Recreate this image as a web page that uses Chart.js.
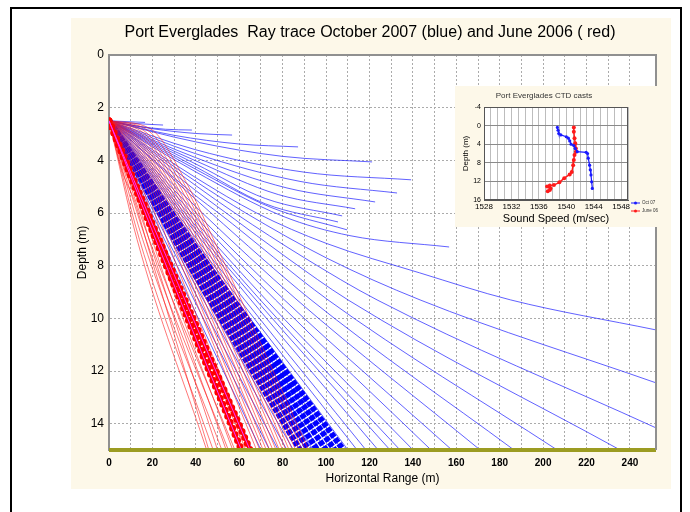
<!DOCTYPE html>
<html>
<head>
<meta charset="utf-8">
<script src="https://cdn.jsdelivr.net/npm/chart.js@4.4.1/dist/chart.umd.min.js"></script>
<style>
  html, body { margin: 0; padding: 0; background: #fff; }
  #wrap { position: relative; width: 690px; height: 512px; }
  #mainChart { position: absolute; left: 0; top: 0; }
  #insetChart { position: absolute; left: 455px; top: 86px; }
</style>
</head>
<body>
<div id="wrap">
  <canvas id="mainChart" width="690" height="512"></canvas>
  <canvas id="insetChart" width="203" height="141"></canvas>
</div>
<script>
// Ray paths: [horizontal range (m), depth (m)]
// October 2007 rays that turn back in the upper layer
const octTurningRays = [
  [[0, 2.5], [16.6, 2.56]],
  [[0, 2.5], [12, 2.6], [24.9, 2.66]],
  [[0, 2.5], [13, 2.7], [26, 2.82], [38.2, 2.85]],
  [[0, 2.5], [20, 2.8], [40, 2.98], [56.7, 3.04]],
  [[0, 2.5], [30, 3.05], [60, 3.38], [87.1, 3.49]],
  [[0, 2.5], [40, 3.3], [80, 3.85], [121.2, 4.06]],
  [[0, 2.5], [40, 3.6], [90, 4.45], [139.2, 4.74]],
  [[0, 2.5], [40, 3.75], [88, 4.8], [132.7, 5.24]],
  [[0, 2.5], [40, 3.9], [82, 5.05], [122.6, 5.58]],
  [[0, 2.5], [40, 4.02], [78, 5.3], [113.4, 5.84]],
  [[0, 2.5], [40, 4.14], [72, 5.45], [107.4, 6.11]],
  [[0, 2.5], [40, 4.25], [72, 5.65], [105.5, 6.34]],
  [[0, 2.5], [40, 4.34], [75, 5.8], [109.7, 6.64]],
  [[0, 2.5], [40, 4.44], [80, 6.12], [111, 6.86], [156.7, 7.29]]
];

// October 2007 rays that carry on to the edge or the bottom
const octLongRays = [
  [[0, 2.5], [40, 4.66], [68, 6.0], [100, 7.15], [143, 8.27], [185, 9.3], [252, 10.44]],
  [[0, 2.5], [40, 4.8], [63, 6.0], [100, 7.7], [143.3, 9.3], [252, 12.45]],
  [[0, 2.5], [40, 4.96], [58, 6.0], [90, 7.7], [123.5, 9.3], [252, 14.16]],
  [[0, 2.5], [40, 5.15], [54, 6.0], [82, 7.7], [110.1, 9.3], [235.5, 15]],
  [[0, 2.5], [40, 5.35], [50.5, 6.0], [100.9, 9.3], [206.5, 15]],
  [[0, 2.5], [47, 6.0], [93.1, 9.3], [186.6, 15]],
  [[0, 2.5], [43, 6.0], [86.6, 9.3], [171, 15]],
  [[0, 2.5], [40.2, 6.0], [80.8, 9.3], [158, 15]],
  [[0, 2.5], [38.2, 6.0], [76.7, 9.3], [148.4, 15]],
  [[0, 2.5], [36.4, 6.0], [72.4, 9.3], [140.1, 15]],
  [[0, 2.5], [34.9, 6.0], [69.7, 9.3], [134.1, 15]],
  [[0, 2.5], [33.7, 6.0], [67.7, 9.3], [129.5, 15]],
  [[0, 2.5], [32.6, 6.0], [65.4, 9.3], [124, 15]],
  [[0, 2.5], [31.2, 6.0], [62.5, 9.3], [118.4, 15]],
  [[0, 2.5], [30.3, 6.0], [60.3, 9.3], [114.3, 15]],
  [[0, 2.5], [29.3, 6.0], [58.7, 9.3], [110.1, 15]]
];

// October 2007 steep rays inside the dense band
const octSteepRays = [
  [[0, 2.5], [22.8, 7], [66, 15]],
  [[0, 2.5], [24.2, 7], [70, 15]],
  [[0, 2.5], [25.5, 7], [74, 15]],
  [[0, 2.5], [26.9, 7], [78, 15]],
  [[0, 2.5], [28.3, 7], [82, 15]],
  [[0, 2.5], [29.3, 7], [85, 15]],
  [[0, 2.5], [30.4, 7], [88, 15]],
  [[0, 2.5], [31.4, 7], [91, 15]],
  [[0, 2.5], [32.4, 7], [94, 15]],
  [[0, 2.5], [33.5, 7], [97, 15]],
  [[0, 2.5], [34.6, 7], [100, 15]],
  [[0, 2.5], [35.9, 7], [104, 15]],
  [[0, 2.5], [37.2, 7], [107.5, 15]]
];

// October 2007 rays drawn with markers
const octMarkedRays = [
  [[0, 2.5], [30.2, 7], [88, 15]],
  [[0, 2.5], [31.6, 7], [92, 15]],
  [[0, 2.5], [33, 7], [96, 15]],
  [[0, 2.5], [34.4, 7], [100, 15]],
  [[0, 2.5], [35.8, 7], [104, 15]],
  [[0, 2.5], [37.2, 7], [108, 15]]
];

// June 2006 rays (thin)
const junRays = [
  [[0, 2.5], [19, 2.8], [36, 4.9], [49.8, 7.3], [92, 15]],
  [[0, 2.5], [18.5, 2.9], [35, 4.95], [48.6, 7.3], [90.5, 15]],
  [[0, 2.5], [18, 3.0], [34, 5.0], [47.5, 7.3], [89, 15]],
  [[0, 2.5], [17.5, 3.07], [33, 5.05], [46.2, 7.3], [87.5, 15]],
  [[0, 2.5], [17, 3.15], [32, 5.1], [45, 7.3], [86, 15]],
  [[0, 2.5], [16.5, 3.22], [31, 5.12], [43.7, 7.3], [84.5, 15]],
  [[0, 2.5], [16, 3.3], [30, 5.15], [42.5, 7.3], [83, 15]],
  [[0, 2.5], [15.5, 3.35], [29, 5.18], [41.2, 7.3], [81.5, 15]],
  [[0, 2.5], [15, 3.4], [28, 5.2], [40, 7.3], [80, 15]],
  [[0, 2.5], [14.5, 3.45], [27, 5.2], [38.7, 7.3], [78.5, 15]],
  [[0, 2.5], [14, 3.5], [26, 5.2], [37.5, 7.3], [77, 15]],
  [[0, 2.5], [13.5, 3.55], [25, 5.2], [36.2, 7.3], [75.5, 15]],
  [[0, 2.5], [13, 3.6], [24, 5.2], [35, 7.3], [74, 15]],
  [[0, 2.5], [12.5, 3.65], [23, 5.2], [33.7, 7.3], [72.5, 15]],
  [[0, 2.5], [12, 3.7], [22, 5.2], [32.5, 7.3], [71, 15]],
  [[0, 2.5], [11.5, 3.75], [21, 5.2], [31.2, 7.3], [69.5, 15]],
  [[0, 2.5], [11, 3.8], [20, 5.2], [30, 7.3], [68, 15]],
  [[0, 2.5], [10.5, 3.87], [19, 5.22], [28, 7.3], [65.5, 15]],
  [[0, 2.5], [10, 3.95], [18, 5.25], [26, 7.3], [63, 15]],
  [[0, 2.5], [9.5, 4.0], [16.5, 5.28], [24.2, 7.3], [60, 15]],
  [[0, 2.5], [9, 4.1], [15, 5.3], [22.5, 7.3], [57, 15]],
  [[0, 2.5], [8, 4.2], [14, 5.4], [21, 7.3], [54, 15]],
  [[0, 2.5], [7, 4.3], [13, 5.5], [19.5, 7.3], [50, 15]],
  [[0, 2.5], [6, 4.4], [12, 5.6], [18, 7.3], [46, 15]],
  [[0, 2.5], [18.5, 7], [58, 15]],
  [[0, 2.5], [17, 7], [55, 15]],
  [[0, 2.5], [15.5, 7], [52, 15]],
  [[0, 2.5], [14, 7], [48, 15]],
  [[0, 2.5], [12.9, 7], [45, 15]]
];

// June 2006 rays drawn with markers
const junMarkedRays = [
  [[0, 2.5], [21.5, 7], [61, 15]],
  [[0, 2.5], [23, 7], [65, 15]]
];

// Sea floor
const seafloor = [[0, 15], [252, 15]];

// Inset: CTD casts
const octSpeed = [1538.7, 1538.8, 1538.9, 1539.2, 1540.0, 1540.3, 1540.5, 1540.7, 1541.1, 1541.3, 1541.6, 1542.9, 1543.1, 1543.2, 1543.4, 1543.5, 1543.6, 1543.7, 1543.8];
const octDepth = [0.4, 1.0, 1.7, 2.0, 2.4, 2.7, 3.3, 4.0, 4.3, 4.9, 5.6, 5.75, 6.0, 7.0, 8.5, 9.5, 10.6, 12.1, 13.5];
const junSpeed = [1541.1, 1541.1, 1541.2, 1541.3, 1541.4, 1541.4, 1541.2, 1541.1, 1541.0, 1540.8, 1540.5, 1539.7, 1539.0, 1538.2, 1537.6, 1537.2, 1537.7, 1537.6, 1537.3];
const junDepth = [0.4, 1.3, 2.7, 3.8, 4.9, 5.6, 6.3, 7.4, 8.5, 10.0, 10.5, 11.3, 12.2, 12.8, 12.9, 13.1, 13.5, 13.85, 14.1];
const ctdLabels = ['Oct 07', 'June 06'];

const FONT = "Arial, 'Liberation Sans', sans-serif";
Chart.defaults.font.family = FONT;
Chart.defaults.color = '#000';

const CREAM = '#fdf8e9';
const BLUE = 'rgba(30, 30, 255, 0.7)';
const RED = 'rgba(255, 30, 30, 0.6)';

function toXY(ray) {
    return ray.map(p => ({ x: p[0], y: p[1] }));
}

function rayLine(ray, color, width) {
    return {
        data: toXY(ray),
        showLine: true,
        borderColor: color,
        borderWidth: width,
        pointRadius: 0,
        cubicInterpolationMode: 'monotone',
        fill: false
    };
}

// Build datasets, first one ends up on top
const mainSets = [];
mainSets.push(Object.assign(rayLine(seafloor, '#9c9c22', 4), { cubicInterpolationMode: 'default', clip: false }));
junMarkedRays.forEach(r => mainSets.push(rayLine(r, '#ff30ff', 1)));
junMarkedRays.forEach(r => mainSets.push(Object.assign(rayLine(r, '#ff0000', 7), {
    borderDash: [0, 6.5], borderCapStyle: 'round'
})));
junRays.forEach(r => mainSets.push(rayLine(r, RED, 1)));
octMarkedRays.forEach(r => mainSets.push(Object.assign(rayLine(r, '#0000ff', 6), {
    borderDash: [5, 1.5], borderCapStyle: 'butt'
})));
octSteepRays.forEach(r => mainSets.push(rayLine(r, BLUE, 1)));
octLongRays.forEach(r => mainSets.push(rayLine(r, BLUE, 1)));
octTurningRays.forEach(r => mainSets.push(rayLine(r, BLUE, 1)));

const mainFrame = {
    id: 'mainFrame',
    beforeDraw(chart) {
        const { ctx, chartArea: a } = chart;
        ctx.save();
        ctx.fillStyle = '#ffffff';
        ctx.fillRect(0, 0, chart.width, chart.height);
        ctx.fillStyle = CREAM;
        ctx.fillRect(71, 18, 600, 471);
        ctx.strokeStyle = '#000';
        ctx.lineWidth = 2;
        ctx.beginPath();
        ctx.moveTo(11, 520);
        ctx.lineTo(11, 8);
        ctx.lineTo(681, 8);
        ctx.lineTo(681, 520);
        ctx.stroke();
        ctx.fillStyle = '#ffffff';
        ctx.fillRect(a.left, a.top, a.right - a.left, a.bottom - a.top);
        ctx.restore();
    },
    afterDraw(chart) {
        const { ctx, chartArea: a } = chart;
        ctx.save();
        ctx.strokeStyle = '#909090';
        ctx.lineWidth = 2;
        ctx.beginPath();
        ctx.moveTo(a.left, a.top);
        ctx.lineTo(a.right, a.top);
        ctx.lineTo(a.right, a.bottom);
        ctx.stroke();
        ctx.fillStyle = '#000';
        ctx.font = '16px ' + FONT;
        ctx.textAlign = 'center';
        ctx.textBaseline = 'middle';
        ctx.fillText('Port Everglades  Ray trace October 2007 (blue) and June 2006 ( red)', 370, 33);
        ctx.restore();
    }
};

new Chart(document.getElementById('mainChart'), {
    type: 'scatter',
    data: { datasets: mainSets },
    options: {
        responsive: false,
        animation: false,
        events: [],
        layout: { padding: { left: 70, right: 34, top: 55, bottom: 22 } },
        plugins: { legend: { display: false }, tooltip: { enabled: false } },
        scales: {
            x: {
                type: 'linear',
                min: 0,
                max: 252,
                ticks: {
                    stepSize: 10,
                    autoSkip: false,
                    maxRotation: 0,
                    padding: 7,
                    font: { size: 10, weight: 'bold' },
                    callback: v => (v % 20 === 0 ? String(v) : '')
                },
                grid: { color: '#ababab', drawTicks: false },
                border: { display: false, dash: [2, 2] },
                title: { display: true, text: 'Horizontal Range (m)', font: { size: 12 }, padding: { top: 0, bottom: 4 } },
                afterFit: s => { s.height = 40; }
            },
            y: {
                type: 'linear',
                min: 0,
                max: 15,
                reverse: true,
                ticks: {
                    stepSize: 2,
                    padding: 5,
                    font: { size: 12 },
                    callback: v => (v % 2 === 0 ? String(v) : '')
                },
                grid: { color: '#ababab', drawTicks: false },
                border: { display: true, color: '#909090', width: 2, dash: [2, 2] },
                title: { display: true, text: 'Depth (m)', font: { size: 12 }, padding: { top: 5, bottom: 0 } },
                afterFit: s => { s.width = 39; }
            }
        }
    },
    plugins: [mainFrame]
});

// Inset chart
const insetFrame = {
    id: 'insetFrame',
    beforeDraw(chart) {
        const { ctx, chartArea: a } = chart;
        ctx.save();
        ctx.fillStyle = CREAM;
        ctx.fillRect(0, 0, chart.width, chart.height);
        ctx.fillStyle = '#ffffff';
        ctx.fillRect(a.left, a.top, a.right - a.left, a.bottom - a.top);
        ctx.restore();
    },
    afterDraw(chart) {
        const { ctx, chartArea: a } = chart;
        ctx.save();
        ctx.strokeStyle = '#555';
        ctx.lineWidth = 1;
        ctx.strokeRect(a.left + 0.5, a.top + 0.5, a.right - a.left - 1, a.bottom - a.top - 1);
        ctx.fillStyle = '#333';
        ctx.font = '8px ' + FONT;
        ctx.textAlign = 'center';
        ctx.textBaseline = 'middle';
        ctx.fillText('Port Everglades CTD casts', 89, 10);
        // small legend
        const colors = ['#1a1aff', '#ff1a1a'];
        ctx.font = '4.5px ' + FONT;
        ctx.textAlign = 'left';
        ctdLabels.forEach((label, i) => {
            const y = 117 + i * 8;
            ctx.strokeStyle = colors[i];
            ctx.lineWidth = 1;
            ctx.beginPath();
            ctx.moveTo(176, y);
            ctx.lineTo(185, y);
            ctx.stroke();
            ctx.fillStyle = colors[i];
            ctx.beginPath();
            ctx.arc(180.5, y, 1.5, 0, Math.PI * 2);
            ctx.fill();
            ctx.fillStyle = '#333';
            ctx.fillText(label, 187, y);
        });
        ctx.restore();
    }
};

new Chart(document.getElementById('insetChart'), {
    type: 'scatter',
    data: {
        datasets: [
            {
                label: ctdLabels[0],
                data: octSpeed.map((s, i) => ({ x: s, y: octDepth[i] })),
                showLine: true,
                borderColor: '#1a1aff',
                borderWidth: 1.2,
                pointRadius: 1.6,
                pointBorderWidth: 0,
                pointBackgroundColor: '#1a1aff'
            },
            {
                label: ctdLabels[1],
                data: junSpeed.map((s, i) => ({ x: s, y: junDepth[i] })),
                showLine: true,
                borderColor: '#ff1a1a',
                borderWidth: 1.4,
                pointRadius: 2,
                pointBorderWidth: 0,
                pointBackgroundColor: '#ff1a1a'
            }
        ]
    },
    options: {
        responsive: false,
        animation: false,
        events: [],
        layout: { padding: { left: 0, right: 30, top: 21, bottom: 0 } },
        plugins: { legend: { display: false }, tooltip: { enabled: false } },
        scales: {
            x: {
                type: 'linear',
                min: 1528,
                max: 1549,
                ticks: {
                    stepSize: 1,
                    autoSkip: false,
                    maxRotation: 0,
                    padding: 2,
                    font: { size: 8 },
                    callback: v => ((v - 1528) % 4 === 0 ? String(v) : '')
                },
                grid: { color: '#bdbdbd', drawTicks: false },
                border: { color: '#555', width: 1 },
                title: { display: true, text: 'Sound Speed (m/sec)', font: { size: 11 }, padding: { top: 0, bottom: 1 } },
                afterFit: s => { s.height = 27; }
            },
            y: {
                type: 'linear',
                min: -4,
                max: 16,
                reverse: true,
                ticks: { stepSize: 4, padding: 3, font: { size: 7 } },
                grid: { color: '#8a8a8a', drawTicks: false },
                border: { color: '#555', width: 1 },
                title: { display: true, text: 'Depth (m)', font: { size: 8 }, padding: { top: 6, bottom: 0 } },
                afterFit: s => { s.width = 29; }
            }
        }
    },
    plugins: [insetFrame]
});
</script>
</body>
</html>
